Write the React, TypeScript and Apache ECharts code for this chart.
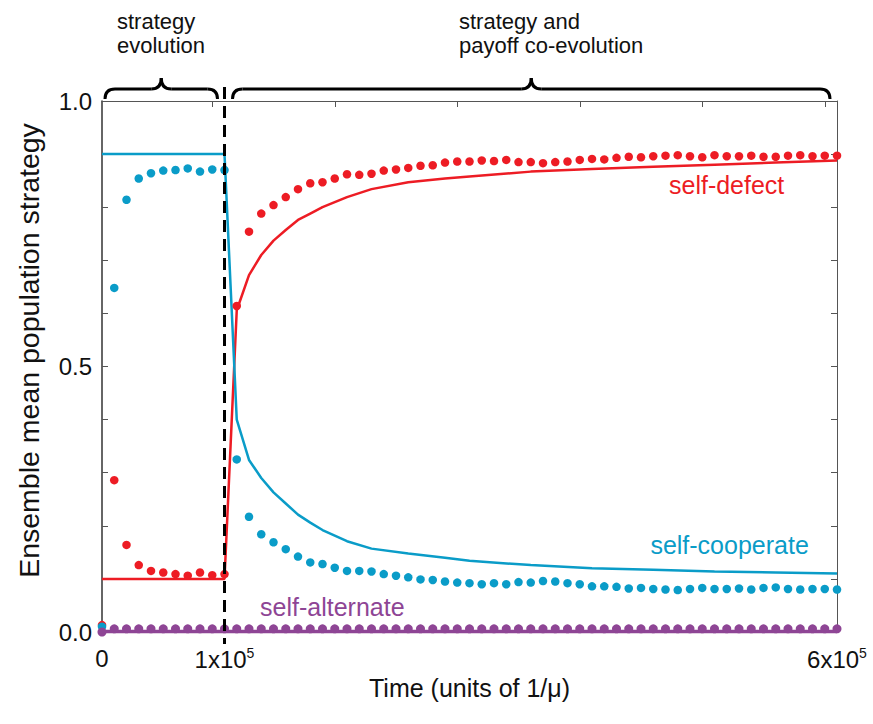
import React, { useEffect, useRef } from "react";
import * as echarts from "echarts";

// time in units of 10^4 generations (1/mu)
const timeSteps = [0, 1, 2, 3, 4, 5, 6, 7, 8, 9, 10, 11, 12, 13, 14, 15, 16, 17, 18, 19, 20, 21, 22, 23, 24, 25, 26, 27, 28, 29, 30, 31, 32, 33, 34, 35, 36, 37, 38, 39, 40, 41, 42, 43, 44, 45, 46, 47, 48, 49, 50, 51, 52, 53, 54, 55, 56, 57, 58, 59, 60];

// simulation (dots)
const defectDots = [0.013, 0.286, 0.164, 0.126, 0.115, 0.112, 0.109, 0.106, 0.112, 0.107, 0.109, 0.614, 0.754, 0.788, 0.804, 0.819, 0.834, 0.845, 0.847, 0.854, 0.862, 0.861, 0.863, 0.869, 0.871, 0.874, 0.878, 0.879, 0.884, 0.886, 0.886, 0.888, 0.887, 0.889, 0.885, 0.885, 0.883, 0.885, 0.886, 0.889, 0.891, 0.89, 0.893, 0.895, 0.894, 0.896, 0.897, 0.898, 0.896, 0.894, 0.898, 0.896, 0.896, 0.897, 0.895, 0.895, 0.897, 0.898, 0.896, 0.897, 0.897];
const cooperateDots = [0.01, 0.648, 0.814, 0.854, 0.864, 0.869, 0.87, 0.873, 0.867, 0.871, 0.87, 0.325, 0.217, 0.184, 0.169, 0.156, 0.142, 0.131, 0.128, 0.121, 0.115, 0.115, 0.114, 0.109, 0.106, 0.103, 0.099, 0.098, 0.095, 0.093, 0.092, 0.09, 0.092, 0.09, 0.094, 0.093, 0.096, 0.095, 0.092, 0.09, 0.086, 0.086, 0.085, 0.082, 0.083, 0.081, 0.08, 0.079, 0.081, 0.083, 0.081, 0.081, 0.082, 0.08, 0.083, 0.084, 0.081, 0.08, 0.081, 0.081, 0.08];
const alternateDots = [0.0, 0.006, 0.006, 0.006, 0.006, 0.006, 0.006, 0.006, 0.006, 0.006, 0.006, 0.006, 0.006, 0.006, 0.006, 0.006, 0.006, 0.006, 0.006, 0.006, 0.006, 0.006, 0.006, 0.006, 0.006, 0.006, 0.006, 0.006, 0.006, 0.006, 0.006, 0.006, 0.006, 0.006, 0.006, 0.006, 0.006, 0.006, 0.006, 0.006, 0.006, 0.006, 0.006, 0.006, 0.006, 0.006, 0.006, 0.006, 0.006, 0.006, 0.006, 0.006, 0.006, 0.006, 0.006, 0.006, 0.006, 0.006, 0.006, 0.006, 0.006];

// analytical (lines)
const modelTimes = [0, 10, 11, 12, 13, 14, 15, 16, 17, 18, 20, 22, 25, 28, 30, 35, 40, 45, 50, 55, 60];
const defectLine = [0.1, 0.1, 0.606, 0.672, 0.71, 0.737, 0.757, 0.776, 0.788, 0.8, 0.819, 0.834, 0.847, 0.854, 0.858, 0.867, 0.872, 0.876, 0.88, 0.884, 0.888];
const cooperateLine = [0.9, 0.9, 0.4, 0.324, 0.29, 0.263, 0.242, 0.221, 0.206, 0.192, 0.171, 0.157, 0.148, 0.14, 0.134, 0.126, 0.12, 0.117, 0.114, 0.112, 0.11];
const alternateLine = [0.001, 0.001, 0.001, 0.001, 0.001, 0.001, 0.001, 0.001, 0.001, 0.001, 0.001, 0.001, 0.001, 0.001, 0.001, 0.001, 0.001, 0.001, 0.001, 0.001, 0.001];

const RED = "#ED1C24";
const BLUE = "#0A9CC8";
const PURPLE = "#8E4595";
const FONT = "'Liberation Sans', Arial, Helvetica, sans-serif";

const pair = (xs: number[], ys: number[]) => xs.map((x, i) => [x, ys[i]]);

export default function App() {
  const ref = useRef<HTMLDivElement>(null);
  useEffect(() => {
    if (!ref.current) return;
    const chart = echarts.init(ref.current, undefined, { renderer: "svg" });
    const near = (v: number, t: number) => Math.abs(v - t) < 1e-6;
    const option: any = {
      animation: false,
      backgroundColor: "#ffffff",
      textStyle: { fontFamily: FONT },
      grid: { left: 102, right: 36, top: 101, bottom: 92, containLabel: false },
      xAxis: [
        {
          type: "value",
          min: 0,
          max: 60,
          interval: 10,
          position: "bottom",
          name: "Time (units of 1/\u03bc)",
          nameLocation: "middle",
          nameGap: 32,
          nameTextStyle: { fontSize: 25, color: "#111", fontFamily: FONT },
          axisLine: { show: true, lineStyle: { color: "#333", width: 1.5 } },
          axisTick: { show: false },
          splitLine: { show: false },
          axisLabel: {
            margin: 14,
            fontSize: 24,
            color: "#111",
            fontFamily: FONT,
            formatter: (v: number) =>
              near(v, 0) ? "0" : near(v, 10) ? "{a|1x10}{s|5}" : near(v, 60) ? "{a|6x10}{s|5}" : "",
            rich: {
              a: { fontSize: 24, color: "#111", fontFamily: FONT },
              s: { fontSize: 14, color: "#111", fontFamily: FONT, padding: [0, 0, 12, 0] },
            },
          },
        },
        {
          type: "category",
          position: "top",
          boundaryGap: false,
          data: timeSteps.map(String),
          axisLine: { show: true, onZero: false, lineStyle: { color: "#555", width: 1 } },
          axisTick: {
            show: true,
            inside: true,
            length: 6,
            interval: (idx: number) => idx % 10 === 9,
            lineStyle: { color: "#555", width: 1 },
          },
          axisLabel: { show: false },
          splitLine: { show: false },
        },
      ],
      yAxis: [
        {
          type: "value",
          min: 0,
          max: 1,
          interval: 0.1,
          position: "left",
          name: "Ensemble mean population strategy",
          nameLocation: "middle",
          nameGap: 59,
          nameTextStyle: { fontSize: 28.5, color: "#111", fontFamily: FONT, padding: [0, 0, 0, 32] },
          axisLine: { show: true, lineStyle: { color: "#333", width: 1.5 } },
          axisTick: { show: true, inside: true, length: 6, lineStyle: { color: "#555" } },
          splitLine: { show: false },
          axisLabel: {
            margin: 10,
            fontSize: 24,
            color: "#111",
            fontFamily: FONT,
            formatter: (v: number) =>
              near(v, 0) || near(v, 0.5) || near(v, 1) ? v.toFixed(1) : "",
          },
        },
        {
          type: "value",
          min: 0,
          max: 1,
          interval: 0.1,
          position: "right",
          axisLine: { show: true, lineStyle: { color: "#555", width: 1 } },
          axisTick: { show: true, inside: true, length: 6, lineStyle: { color: "#555" } },
          axisLabel: { show: false },
          splitLine: { show: false },
        },
      ],
      series: [
        {
          name: "self-defect model",
          type: "line",
          data: pair(modelTimes, defectLine),
          showSymbol: false,
          symbol: "none",
          clip: false,
          lineStyle: { color: RED, width: 2.5 },
          z: 2,
        },
        {
          name: "self-cooperate model",
          type: "line",
          data: pair(modelTimes, cooperateLine),
          showSymbol: false,
          symbol: "none",
          clip: false,
          lineStyle: { color: BLUE, width: 2.5 },
          z: 2,
        },
        {
          name: "self-defect",
          type: "scatter",
          data: pair(timeSteps, defectDots),
          symbolSize: 8.5,
          clip: false,
          itemStyle: { color: RED, opacity: 1 },
          z: 3,
        },
        {
          name: "self-cooperate",
          type: "scatter",
          data: pair(timeSteps, cooperateDots),
          symbolSize: 8.5,
          clip: false,
          itemStyle: { color: BLUE, opacity: 1 },
          z: 3,
        },
        {
          name: "self-alternate model",
          type: "line",
          data: pair(modelTimes, alternateLine),
          showSymbol: false,
          symbol: "none",
          clip: false,
          lineStyle: { color: PURPLE, width: 3.5 },
          z: 4,
        },
        {
          name: "self-alternate",
          type: "scatter",
          data: pair(timeSteps, alternateDots),
          symbolSize: 9,
          clip: false,
          itemStyle: { color: PURPLE, opacity: 1 },
          z: 5,
        },
      ],
    };
    chart.setOption(option);

    const p = (x: number, y: number) =>
      chart.convertToPixel({ xAxisIndex: 0, yAxisIndex: 0 }, [x, y]) as number[];

    const brace = (x0: number, x1: number, yEnd: number, yMid: number, yTip: number) => {
      const r = 10;
      const xt = (x0 + x1) / 2;
      const st = { stroke: "#000", lineWidth: 3, fill: "none" };
      return [
        { type: "bezierCurve", shape: { x1: x0, y1: yEnd, cpx1: x0, cpy1: yMid, x2: x0 + r, y2: yMid }, style: st },
        { type: "line", shape: { x1: x0 + r, y1: yMid, x2: xt - r, y2: yMid }, style: st },
        { type: "bezierCurve", shape: { x1: xt - r, y1: yMid, cpx1: xt, cpy1: yMid, x2: xt, y2: yTip }, style: st },
        { type: "bezierCurve", shape: { x1: xt, y1: yTip, cpx1: xt, cpy1: yMid, x2: xt + r, y2: yMid }, style: st },
        { type: "line", shape: { x1: xt + r, y1: yMid, x2: x1 - r, y2: yMid }, style: st },
        { type: "bezierCurve", shape: { x1: x1 - r, y1: yMid, cpx1: x1, cpy1: yMid, x2: x1, y2: yEnd }, style: st },
      ];
    };

    const origin = p(0, 0);
    const top = p(0, 1);
    const split = p(10, 0);
    const end = p(60, 0);
    const yTop = top[1];

    const text = (t: string, x: number, y: number, color: string, size: number, align = "left") => ({
      type: "text",
      x,
      y,
      silent: true,
      style: { text: t, fill: color, font: `${size}px ${FONT}`, align, verticalAlign: "middle" },
    });

    const defectLab = p(55.7, 0.842);
    const coopLab = p(57.7, 0.164);
    const altLab = p(12.9, 0.047);

    chart.setOption({
      graphic: [
        {
          type: "line",
          shape: { x1: split[0], y1: yTop - 14, x2: split[0], y2: origin[1] + 12 },
          style: { stroke: "#000", lineWidth: 3, lineDash: [12, 7] },
          z: 10,
        },
        ...brace(origin[0] + 3, split[0] - 7, yTop - 2, yTop - 12, yTop - 23),
        ...brace(split[0] + 8, end[0] - 7, yTop - 2, yTop - 12, yTop - 23),
        text("strategy", origin[0] + 15, 21, "#111", 22),
        text("evolution", origin[0] + 15, 45, "#111", 22),
        text("strategy and", origin[0] + 357, 21, "#111", 22),
        text("payoff co-evolution", origin[0] + 357, 45, "#111", 22),
        text("self-defect", defectLab[0], defectLab[1], RED, 25, "right"),
        text("self-cooperate", coopLab[0], coopLab[1], BLUE, 25, "right"),
        text("self-alternate", altLab[0], altLab[1], PURPLE, 25, "left"),
      ],
    });

    return () => chart.dispose();
  }, []);
  return (
    <div
      ref={ref}
      style={{ position: "fixed", left: 0, top: 0, width: 873, height: 724, background: "#fff" }}
    />
  );
}
